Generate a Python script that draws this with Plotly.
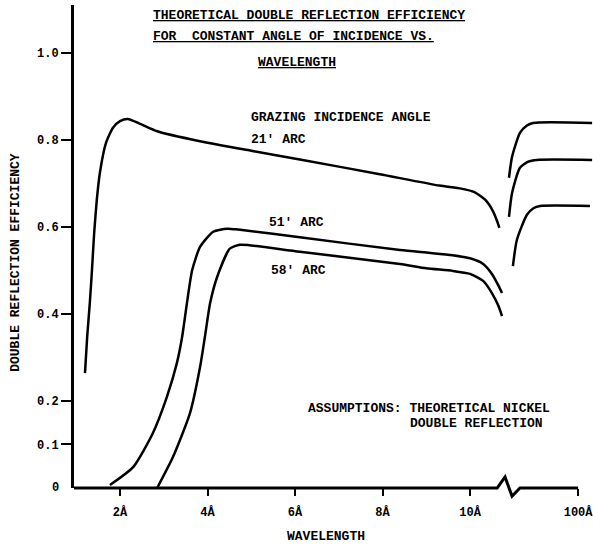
import plotly.graph_objects as go

# ---- data (x in axis position units: 2..10 = wavelength in Angstrom; beyond the break the axis runs to 100 A) ----
x_21 = [1.20, 1.25, 1.31, 1.36, 1.41, 1.47, 1.54, 1.68, 1.84, 2.00, 2.18, 2.46, 2.85, 3.83, 5.0, 6.11, 7.94, 9.3, 9.8, 10.1, 10.35, 10.52, 10.62, 10.67]
y_21 = [0.264, 0.347, 0.425, 0.501, 0.586, 0.662, 0.724, 0.793, 0.828, 0.843, 0.848, 0.837, 0.820, 0.797, 0.775, 0.755, 0.721, 0.695, 0.688, 0.680, 0.662, 0.637, 0.613, 0.598]

x_51 = [1.77, 2.30, 2.75, 3.07, 3.30, 3.42, 3.53, 3.65, 3.83, 4.13, 4.45, 4.7, 6.11, 8.4, 9.0, 9.6, 10.0, 10.3, 10.5, 10.65, 10.73]
y_51 = [0.007, 0.048, 0.126, 0.209, 0.287, 0.347, 0.425, 0.501, 0.554, 0.589, 0.596, 0.594, 0.576, 0.547, 0.541, 0.535, 0.528, 0.515, 0.492, 0.465, 0.448]

x_58 = [2.85, 3.21, 3.60, 3.83, 3.94, 4.06, 4.22, 4.51, 4.74, 4.95, 6.11, 8.4, 9.0, 9.6, 10.0, 10.3, 10.5, 10.65, 10.73]
y_58 = [0.0, 0.071, 0.172, 0.278, 0.347, 0.425, 0.485, 0.550, 0.559, 0.558, 0.543, 0.515, 0.505, 0.499, 0.492, 0.476, 0.448, 0.418, 0.395]

# segments beyond the axis break (toward 100 A)
x_21_long = [10.89, 10.96, 11.14, 11.30, 11.44, 12.79]
y_21_long = [0.713, 0.761, 0.816, 0.833, 0.839, 0.839]
x_51_long = [10.89, 10.96, 11.14, 11.33, 11.53, 12.79]
y_51_long = [0.623, 0.678, 0.736, 0.750, 0.754, 0.754]
x_58_long = [10.98, 11.07, 11.30, 11.45, 11.60, 12.74]
y_58_long = [0.510, 0.570, 0.628, 0.643, 0.648, 0.648]

x_tickvals = [2, 4, 6, 8, 10, 12.47]
x_ticktext = ["2Å", "4Å", "6Å", "8Å", "10Å", "100Å"]
y_tickvals = [0.1, 0.2, 0.4, 0.6, 0.8, 1.0]
y_ticktext = ["0.1", "0.2", "0.4", "0.6", "0.8", "1.0"]

FONT = "Liberation Mono"
line_style = dict(color="black", width=2.5, shape="spline", smoothing=0.6)

fig = go.Figure()
for xs, ys in [(x_21, y_21), (x_51, y_51), (x_58, y_58),
               (x_21_long, y_21_long), (x_51_long, y_51_long), (x_58_long, y_58_long)]:
    fig.add_trace(go.Scatter(x=xs, y=ys, mode="lines", line=line_style,
                             showlegend=False, hoverinfo="skip"))

def note(text, x, y, size=13, xanchor="left", xref="x", yref="y", angle=0):
    fig.add_annotation(text=text, x=x, y=y, xref=xref, yref=yref, showarrow=False,
                       xanchor=xanchor, yanchor="middle", textangle=angle,
                       font=dict(family=FONT, size=size, color="black", weight="bold"))

note("<u>THEORETICAL DOUBLE REFLECTION EFFICIENCY</u>", 2.70, 1.087)
note("<u>FOR\u00a0\u00a0CONSTANT ANGLE OF INCIDENCE VS.</u>", 2.70, 1.037)
note("<u>WAVELENGTH</u>", 5.10, 0.977)
note("GRAZING INCIDENCE ANGLE", 4.95, 0.851)
note("21' ARC", 4.95, 0.800)
note("51' ARC", 5.36, 0.611)
note("58' ARC", 5.40, 0.499)
note("ASSUMPTIONS: THEORETICAL NICKEL", 6.24, 0.182)
note("DOUBLE REFLECTION", 8.58, 0.149)
note("0", (61 - 74) / 519, 0.0, size=12, xanchor="right", xref="paper")
note("WAVELENGTH", 6.71, -0.100, size=13, xanchor="center", yref="paper")
note("DOUBLE REFLECTION EFFICIENCY", -0.112, 0.468, size=13, xanchor="center",
     xref="paper", yref="paper", angle=-90)

# x axis line with break symbol
x0 = 0.949
fig.add_shape(type="path", xref="x", yref="paper",
              path=f"M {x0},0 L 10.62,0 L 10.80,0.023 L 10.96,-0.017 L 11.14,0 L 12.47,0",
              line=dict(color="black", width=3), layer="above")

fig.update_layout(
    width=593, height=544,
    margin=dict(l=74, r=0, t=5, b=56),
    paper_bgcolor="white", plot_bgcolor="white",
    xaxis=dict(range=[x0, 12.81], showgrid=False, zeroline=False, showline=False,
               tickvals=x_tickvals, ticktext=x_ticktext, ticks="outside",
               ticklen=7, tickwidth=2, tickcolor="black", ticklabelstandoff=6,
               ticklabeloverflow="allow",
               tickfont=dict(family=FONT, size=12, color="black", weight="bold")),
    yaxis=dict(range=[0, 1.110], showgrid=False, zeroline=False, showline=True,
               linewidth=3, linecolor="black",
               tickvals=y_tickvals, ticktext=y_ticktext, ticks="outside",
               ticklen=10, tickwidth=2, tickcolor="black",
               tickfont=dict(family=FONT, size=12, color="black", weight="bold")),
)

fig.write_html("out.html")
